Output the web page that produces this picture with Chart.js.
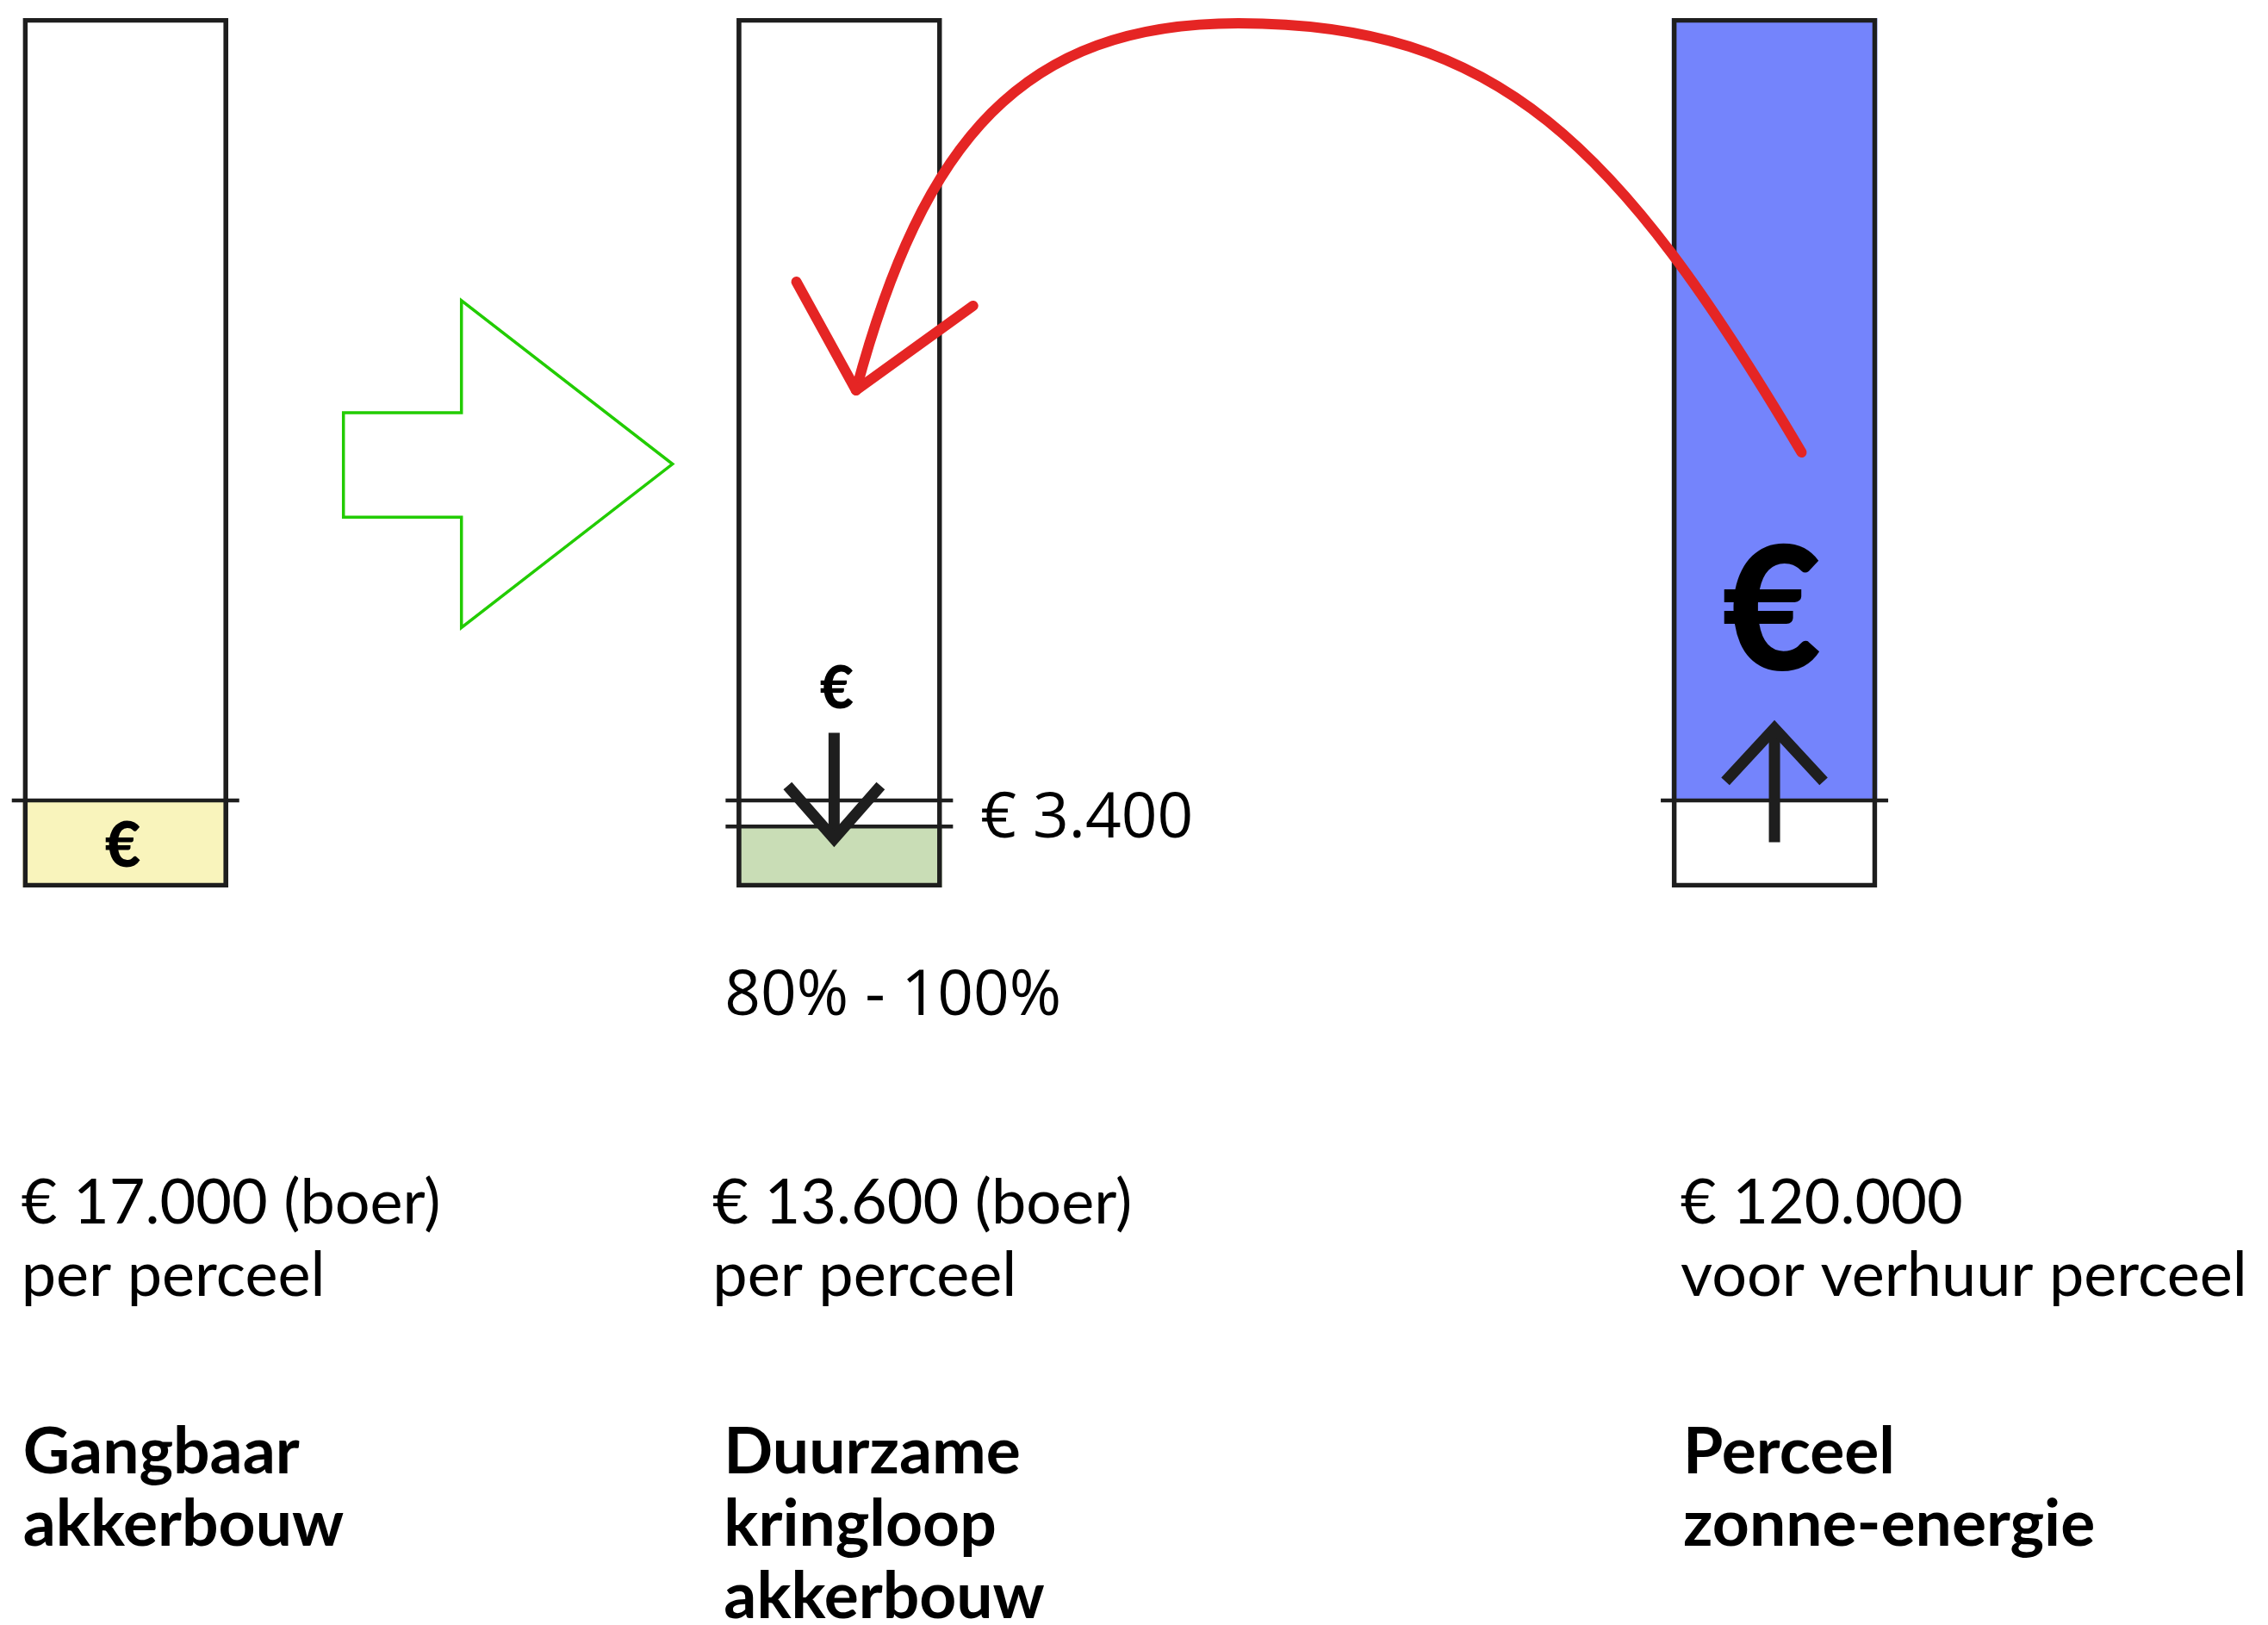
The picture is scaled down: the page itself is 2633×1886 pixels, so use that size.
<!DOCTYPE html>
<html lang="nl">
<head>
<meta charset="utf-8">
<title>Opbrengst per perceel</title>
<script src="https://cdn.jsdelivr.net/npm/chart.js@4.4.1/dist/chart.umd.min.js"></script>
<style>
  html, body { margin: 0; padding: 0; background: #fff; }
</style>
</head>
<body>
<canvas id="grafiek" width="2633" height="1886"></canvas>
<script>
// gegevens
const categories = [["Gangbaar", "akkerbouw"], ["Duurzame", "kringloop", "akkerbouw"], ["Perceel", "zonne-energie"]];
const incomeLines = [["€ 17.000 (boer)", "per perceel"], ["€ 13.600 (boer)", "per perceel"], ["€ 120.000", "voor verhuur perceel"]];
const fillFrom = [0, 0, 10];
const fillTo = [10, 7, 100];
const barTop = [100, 100, 100];
const thresholds = [[10], [10, 7], [10]];
const dropLabel = "€ 3.400";
const rangeLabel = "80% - 100%";

// opmaak
const INK = "#1e1e1e";
const fillColors = ["#f9f4bc", "#c9ddb6", "#7484fc"];
const slot = [0, 3.03, 7];
const BAR_W = 238;
const incomeDx = [-2, -28, 10];
const nameDx = [0, -15, 13];

const fillData = slot.map((s, i) => ({ x: s, y: [fillFrom[i], fillTo[i]] }));
const outlineData = slot.map((s, i) => ({ x: s, y: [0, barTop[i]] }));

const tekenExtra = {
    id: "tekenExtra",
    afterDatasetsDraw(chart) {
        const ctx = chart.ctx;
        const px = v => chart.scales.x.getPixelForValue(v);
        const py = v => chart.scales.y.getPixelForValue(v);
        const half = BAR_W / 2;
        const bottom = chart.chartArea.bottom;
        ctx.save();

        // streepjes op de drempels
        ctx.strokeStyle = INK;
        ctx.lineWidth = 4.5;
        thresholds.forEach((list, i) => {
            list.forEach(t => {
                ctx.beginPath();
                ctx.moveTo(px(slot[i]) - half - 13, py(t));
                ctx.lineTo(px(slot[i]) + half + 13, py(t));
                ctx.stroke();
            });
        });

        // euro tekens
        ctx.fillStyle = "#000";
        ctx.textAlign = "center";
        ctx.textBaseline = "middle";
        [[0, 5, 72], [1, 23.1, 68], [2, 32.2, 200]].forEach(([b, v, size]) => {
            ctx.font = "900 " + size + "px Lato";
            ctx.fillText("€", px(slot[b]) - 3, py(v) + size * 0.04);
        });

        // pijltjes omlaag / omhoog
        function pijl(cx, yFrom, yTo, yWing, w) {
            ctx.strokeStyle = INK;
            ctx.lineWidth = 13;
            ctx.lineCap = "butt";
            ctx.lineJoin = "miter";
            ctx.beginPath();
            ctx.moveTo(cx, py(yFrom));
            ctx.lineTo(cx, py(yTo));
            ctx.stroke();
            ctx.beginPath();
            ctx.moveTo(cx - w, py(yWing));
            ctx.lineTo(cx, py(yTo));
            ctx.lineTo(cx + w, py(yWing));
            ctx.stroke();
        }
        pijl(px(slot[1]) - 6, 17.8, 5.6, 11.7, 54);
        pijl(px(slot[2]), 5.2, 18.3, 12.2, 57);

        // groene pijl
        ctx.strokeStyle = "#22cc00";
        ctx.lineWidth = 3.5;
        ctx.lineJoin = "miter";
        ctx.beginPath();
        [[0.925, 54.6], [1.426, 54.6], [1.426, 67.5], [2.322, 48.7],
         [1.426, 29.9], [1.426, 42.6], [0.925, 42.6]].forEach(([x, y], k) => {
            if (k === 0) ctx.moveTo(px(x), py(y)); else ctx.lineTo(px(x), py(y));
        });
        ctx.closePath();
        ctx.stroke();

        // rode boog van zonne-energie naar kringloop
        ctx.strokeStyle = "#e52524";
        ctx.lineWidth = 12;
        ctx.lineCap = "round";
        ctx.lineJoin = "round";
        ctx.beginPath();
        ctx.moveTo(px(7.115), py(50.05));
        ctx.bezierCurveTo(px(6.333), py(85.83), px(5.821), py(99.41), px(4.724), py(99.41));
        ctx.bezierCurveTo(px(3.810), py(99.41), px(3.386), py(86.03), px(3.101), py(57.19));
        ctx.stroke();
        ctx.beginPath();
        ctx.moveTo(px(2.848), py(69.67));
        ctx.lineTo(px(3.101), py(57.19));
        ctx.lineTo(px(3.598), py(66.90));
        ctx.stroke();

        // bedragen naast de kringloop balk
        ctx.fillStyle = "#000";
        ctx.textAlign = "left";
        ctx.textBaseline = "alphabetic";
        ctx.font = "400 73px 'Open Sans'";
        ctx.fillText(dropLabel, px(slot[1]) + half + 45, py(7) + 13);
        ctx.fillText(rangeLabel, px(slot[1]) - half - 14, bottom + 148);

        // teksten onder de balken
        slot.forEach((s, i) => {
            const left = px(s) - half;
            ctx.font = "400 72px Lato";
            incomeLines[i].forEach((t, k) => {
                ctx.fillText(t, left + incomeDx[i], bottom + 390 + k * 84);
            });
            ctx.font = "700 75px Lato";
            categories[i].forEach((t, k) => {
                ctx.fillText(t, left + nameDx[i], bottom + 680 + k * 84);
            });
        });

        ctx.restore();
    }
};

new Chart(document.getElementById("grafiek"), {
    type: "bar",
    data: {
        datasets: [{
            label: "Perceel",
            data: outlineData,
            backgroundColor: "rgba(0,0,0,0)",
            borderColor: INK,
            borderWidth: 5,
            borderSkipped: false,
            grouped: false,
            barThickness: BAR_W
        }, {
            label: "Opbrengst",
            data: fillData,
            backgroundColor: fillColors,
            borderWidth: 0,
            grouped: false,
            barThickness: BAR_W
        }]
    },
    options: {
        responsive: false,
        animation: false,
        layout: { padding: { left: 9, right: 26, top: 21, bottom: 856 } },
        plugins: { legend: { display: false }, tooltip: { enabled: false } },
        scales: {
            x: { type: "linear", min: -0.5, max: 9, offset: false, display: false },
            y: { min: 0, max: 100, display: false }
        }
    },
    plugins: [tekenExtra]
});
</script>
</body>
</html>
